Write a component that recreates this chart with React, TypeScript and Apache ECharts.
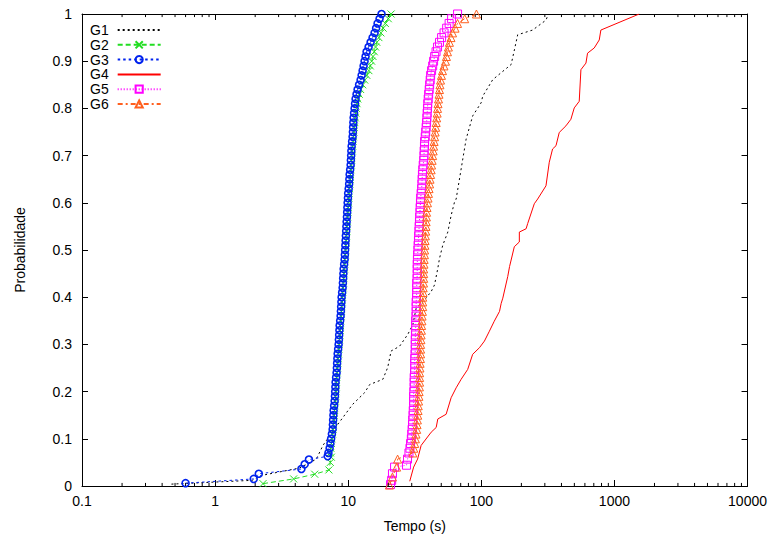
import React, { useEffect, useRef } from "react";
import * as echarts from "echarts";

// ---- Data ----
const SERIES_NAMES = ["G1", "G2", "G3", "G4", "G5", "G6"];
const X_TICK_LABELS = ["0.1", "1", "10", "100", "1000", "10000"];

const G1_X = [0.47, 1.9, 2.2, 4.3, 5.2, 5.76, 6.46, 8.37, 10.8, 13.3, 14.5, 18.2, 19.8, 21.0, 24.3, 28.0, 30.6, 32.4, 37.4, 42.0, 44.5, 47.1, 48.5, 51.3, 56.0, 59.3, 62.8, 64.7, 72.6, 76.9, 86.1, 99.7, 102.5, 121.9, 167.5, 177.2, 187.6, 243, 306, 315];
const G1_Y = [0.004, 0.012, 0.022, 0.038, 0.05, 0.057, 0.086, 0.131, 0.173, 0.198, 0.215, 0.226, 0.251, 0.286, 0.296, 0.321, 0.342, 0.377, 0.394, 0.412, 0.426, 0.461, 0.482, 0.51, 0.538, 0.573, 0.601, 0.608, 0.693, 0.735, 0.784, 0.812, 0.826, 0.861, 0.893, 0.924, 0.956, 0.966, 0.987, 0.996];

const G2_X = [2.29, 3.89, 5.6, 7.16, 7.34, 7.47,
  7.35, 7.4, 7.48, 7.55, 7.62, 7.7, 7.75, 7.8, 7.85, 7.9, 7.95, 8.0, 8.05, 8.1,
  8.12, 8.15, 8.2, 8.25, 8.3, 8.35, 8.4, 8.45, 8.5, 8.55, 8.6, 8.65, 8.7, 8.75,
  8.8, 8.85, 8.9, 8.95, 9.0, 9.05, 9.1, 9.15, 9.2, 9.25, 9.3, 9.35, 9.4, 9.45,
  9.5, 9.55, 9.6, 9.65, 9.7, 9.75, 9.8, 9.85, 9.9, 9.95, 10.0, 10.05, 10.1, 10.15,
  10.22, 10.3, 10.35, 10.4, 10.48, 10.55, 10.6, 10.65, 10.72, 10.8, 10.88, 10.95,
  11.02, 11.1, 11.2, 11.3, 11.4, 11.5, 11.65, 11.8, 12.1, 12.4, 12.85, 13.3, 13.8,
  14.3, 14.65, 15.0, 15.35, 15.7, 16.05, 16.4, 17.0, 17.6, 18.3, 19.0, 20.0, 21.0];
const G2_Y = [0.005, 0.015, 0.025, 0.034, 0.05, 0.061,
  0.07, 0.08, 0.09, 0.1, 0.11, 0.12, 0.13, 0.14, 0.15, 0.16, 0.17, 0.18, 0.19, 0.2,
  0.21, 0.22, 0.23, 0.24, 0.25, 0.26, 0.27, 0.28, 0.29, 0.3, 0.31, 0.32, 0.33, 0.34,
  0.35, 0.36, 0.37, 0.38, 0.39, 0.4, 0.41, 0.42, 0.43, 0.44, 0.45, 0.46, 0.47, 0.48,
  0.49, 0.5, 0.51, 0.52, 0.53, 0.54, 0.55, 0.56, 0.57, 0.58, 0.59, 0.6, 0.61, 0.62,
  0.63, 0.64, 0.65, 0.66, 0.67, 0.68, 0.69, 0.7, 0.71, 0.72, 0.73, 0.74,
  0.75, 0.76, 0.77, 0.78, 0.79, 0.8, 0.81, 0.82, 0.83, 0.84, 0.85, 0.86, 0.87,
  0.88, 0.89, 0.9, 0.91, 0.92, 0.93, 0.94, 0.95, 0.96, 0.97, 0.98, 0.99, 1.0];

const G3_X = [0.6, 1.95, 2.13, 4.45, 4.71, 5.07, 7.01,
  7.1, 7.25, 7.35, 7.44, 7.54, 7.64, 7.67, 7.7, 7.74, 7.77, 7.84, 7.91, 7.95, 7.98,
  8.01, 8.04, 8.11, 8.18, 8.22, 8.25, 8.29, 8.33, 8.4, 8.47, 8.51, 8.55, 8.59, 8.62,
  8.7, 8.77, 8.81, 8.85, 8.89, 8.92, 9.0, 9.08, 9.12, 9.16, 9.2, 9.24, 9.32, 9.4,
  9.44, 9.48, 9.52, 9.56, 9.6, 9.65, 9.69, 9.73, 9.78, 9.82, 9.86, 9.9, 9.95, 9.99,
  10.08, 10.16, 10.2, 10.25, 10.34, 10.43, 10.47, 10.52, 10.56, 10.61, 10.7, 10.79,
  10.84, 10.88, 10.93, 10.98, 11.07, 11.17, 11.26, 11.36, 11.55, 11.76, 12.07, 12.39,
  12.61, 12.83, 13.05, 13.27, 13.5, 13.74, 14.23, 14.73, 15.25, 15.78, 16.2, 16.62, 17.2, 17.8];
const G3_Y = [0.006, 0.015, 0.026, 0.036, 0.046, 0.056, 0.063,
  0.07, 0.08, 0.09, 0.1, 0.11, 0.12, 0.13, 0.14, 0.15, 0.16, 0.17, 0.18, 0.19, 0.2,
  0.21, 0.22, 0.23, 0.24, 0.25, 0.26, 0.27, 0.28, 0.29, 0.3, 0.31, 0.32, 0.33, 0.34,
  0.35, 0.36, 0.37, 0.38, 0.39, 0.4, 0.41, 0.42, 0.43, 0.44, 0.45, 0.46, 0.47, 0.48,
  0.49, 0.5, 0.51, 0.52, 0.53, 0.54, 0.55, 0.56, 0.57, 0.58, 0.59, 0.6, 0.61, 0.62,
  0.63, 0.64, 0.65, 0.66, 0.67, 0.68, 0.69, 0.7, 0.71, 0.72, 0.73, 0.74,
  0.75, 0.76, 0.77, 0.78, 0.79, 0.8, 0.81, 0.82, 0.83, 0.84, 0.85, 0.86,
  0.87, 0.88, 0.89, 0.9, 0.91, 0.92, 0.93, 0.94, 0.95, 0.96, 0.97, 0.98, 0.99, 1.0];

const G4_X = [29, 31, 33.2, 35.3, 42.0, 45.8, 47.1, 54.4, 59.3, 64.7, 70.5, 79.0, 86.1, 96.8, 105.5, 115, 125, 137, 141, 145, 158, 163, 177, 193, 193, 217, 223, 250, 265, 306, 324, 343, 364, 385, 432, 471, 499, 544, 560, 611, 628, 705, 769, 791, 1535];
const G4_Y = [0.01, 0.04, 0.057, 0.086, 0.114, 0.124, 0.142, 0.152, 0.187, 0.208, 0.226, 0.247, 0.279, 0.293, 0.307, 0.328, 0.349, 0.37, 0.387, 0.398, 0.444, 0.465, 0.507, 0.517, 0.538, 0.545, 0.556, 0.598, 0.608, 0.636, 0.686, 0.714, 0.721, 0.749, 0.763, 0.777, 0.801, 0.815, 0.882, 0.896, 0.917, 0.928, 0.945, 0.966, 1.0];

const G5_X = [20.8, 21.2, 21.5, 22.3, 27.4, 27.9,
  28.6, 29.1, 29.4, 29.8, 30.0, 30.2, 30.4, 30.5, 30.7, 30.8, 31.0, 31.0, 31.0, 31.1,
  31.3, 31.3, 31.3, 31.5, 31.6, 31.6, 31.6, 31.8, 31.9, 31.9, 31.9, 32.0, 32.1, 32.1,
  32.1, 32.3, 32.4, 32.4, 32.4, 32.6, 32.7, 32.7, 32.7, 32.9, 33.0, 33.0, 33.0, 33.1,
  33.2, 33.4, 33.5, 33.7, 33.8, 34.0, 34.1, 34.3, 34.4, 34.6, 34.7, 34.9, 35.0, 35.3,
  35.6, 35.8, 35.9, 36.1, 36.3, 36.6, 36.9, 37.1, 37.2, 37.4, 37.5, 37.9,
  38.2, 38.5, 38.8, 39.0, 39.2, 39.4, 39.6, 39.9, 40.2, 40.6, 40.9, 41.3, 41.6,
  42.3, 43.1, 43.8, 44.6, 45.7, 46.9, 48.5, 50.3, 52.5, 54.9, 57.3, 59.8, 66.3];
const G5_Y = [0.003, 0.012, 0.026, 0.04, 0.044, 0.057,
  0.07, 0.08, 0.09, 0.1, 0.11, 0.12, 0.13, 0.14, 0.15, 0.16, 0.17, 0.18, 0.19, 0.2,
  0.21, 0.22, 0.23, 0.24, 0.25, 0.26, 0.27, 0.28, 0.29, 0.3, 0.31, 0.32, 0.33, 0.34,
  0.35, 0.36, 0.37, 0.38, 0.39, 0.4, 0.41, 0.42, 0.43, 0.44, 0.45, 0.46, 0.47, 0.48,
  0.49, 0.5, 0.51, 0.52, 0.53, 0.54, 0.55, 0.56, 0.57, 0.58, 0.59, 0.6, 0.61, 0.62,
  0.63, 0.64, 0.65, 0.66, 0.67, 0.68, 0.69, 0.7, 0.71, 0.72, 0.73, 0.74,
  0.75, 0.76, 0.77, 0.78, 0.79, 0.8, 0.81, 0.82, 0.83, 0.84, 0.85, 0.86, 0.87,
  0.88, 0.89, 0.9, 0.91, 0.92, 0.93, 0.94, 0.95, 0.96, 0.97, 0.98, 0.99, 1.0];

const G6_X = [20.4, 21.5, 23.1, 23.5,
  30.6, 31.1, 31.6, 32.0, 32.3, 32.7, 32.9, 33.1, 33.3, 33.5, 33.6, 33.8, 34.0, 34.1,
  34.3, 34.4, 34.4, 34.4, 34.6, 34.7, 34.9, 35.0, 35.0, 35.0, 35.2, 35.3, 35.5, 35.6,
  35.8, 35.9, 36.1, 36.3, 36.3, 36.3, 36.5, 36.6, 36.8, 36.9, 36.9, 36.9, 37.1, 37.2,
  37.4, 37.5, 37.7, 37.8, 38.0, 38.2, 38.4, 38.5, 38.7, 38.8, 39.1, 39.4, 39.8, 40.1,
  40.5, 40.9, 41.2, 41.6, 42.0, 42.3, 42.7, 43.1, 43.5, 43.8, 44.2, 44.6,
  45.0, 45.4, 45.8, 46.2, 46.6, 46.9, 47.3, 47.7, 48.1, 48.5, 48.9, 49.4, 50.2,
  51.1, 52.4, 53.8, 54.7, 55.7, 56.6, 57.6, 59.2, 60.8, 63.5, 66.3, 75.0, 91.9];
const G6_Y = [0.002, 0.019, 0.04, 0.057,
  0.07, 0.08, 0.09, 0.1, 0.11, 0.12, 0.13, 0.14, 0.15, 0.16, 0.17, 0.18, 0.19, 0.2,
  0.21, 0.22, 0.23, 0.24, 0.25, 0.26, 0.27, 0.28, 0.29, 0.3, 0.31, 0.32, 0.33, 0.34,
  0.35, 0.36, 0.37, 0.38, 0.39, 0.4, 0.41, 0.42, 0.43, 0.44, 0.45, 0.46, 0.47, 0.48,
  0.49, 0.5, 0.51, 0.52, 0.53, 0.54, 0.55, 0.56, 0.57, 0.58, 0.59, 0.6, 0.61, 0.62,
  0.63, 0.64, 0.65, 0.66, 0.67, 0.68, 0.69, 0.7, 0.71, 0.72, 0.73, 0.74,
  0.75, 0.76, 0.77, 0.78, 0.79, 0.8, 0.81, 0.82, 0.83, 0.84, 0.85, 0.86, 0.87,
  0.88, 0.89, 0.9, 0.91, 0.92, 0.93, 0.94, 0.95, 0.96, 0.97, 0.98, 0.99, 1.0];

const zip = (xs: number[], ys: number[]) => xs.map((x, i) => [x, ys[i]]);

const FONT = "'Liberation Sans', Arial, sans-serif";
const CROSS = "path://M0,0L10,10M10,0L0,10";

export default function App() {
  const ref = useRef<HTMLDivElement>(null);

  useEffect(() => {
    if (!ref.current) return;
    const chart = echarts.init(ref.current, undefined, { renderer: "svg" });

    // gnuplot-style minor ticks at 2..9 of each decade (bottom and top borders),
    // drawn as short broken line segments in data space (0.0065 of y range ≈ 3px)
    const TICK = 0.0065;
    const minorTicks: any[] = [];
    for (let e = -1; e < 4; e++) {
      for (let k = 2; k <= 9; k++) {
        const v = k * Math.pow(10, e);
        minorTicks.push([v, 0], [v, TICK], "-", [v, 1], [v, 1 - TICK], "-");
      }
    }

    const fmtX = (v: number) => {
      const idx = Math.round(Math.log10(v)) + 1;
      return X_TICK_LABELS[idx] ?? String(v);
    };

    const axisLine = { show: true, onZero: false, lineStyle: { color: "#000", width: 1 } };
    const axisTick = { show: true, inside: true, length: 6, lineStyle: { color: "#000", width: 1 } };

    const transparent = "rgba(0,0,0,0)";

    const option: any = {
      animation: false,
      backgroundColor: "#fff",
      textStyle: { fontFamily: FONT },
      grid: { left: 82, right: 22, top: 14, bottom: 49, containLabel: false },
      legend: {
        data: SERIES_NAMES,
        orient: "vertical",
        left: 85,
        top: 18,
        align: "right",
        itemWidth: 43,
        itemHeight: 9,
        itemGap: 0.8,
        selectedMode: false,
        textStyle: { fontSize: 14, color: "#000", fontFamily: FONT, padding: [0, 4, 0, 0] },
      },
      xAxis: [
        {
          type: "log",
          logBase: 10,
          min: 0.1,
          max: 10000,
          splitNumber: 5,
          position: "bottom",
          name: "Tempo (s)",
          nameLocation: "middle",
          nameGap: 33,
          nameTextStyle: { fontSize: 14, color: "#000", fontFamily: FONT },
          axisLine,
          axisTick,
          axisLabel: { fontSize: 14, color: "#000", margin: 8, fontFamily: FONT, formatter: fmtX },
          splitLine: { show: false },
        },
        {
          type: "log",
          logBase: 10,
          min: 0.1,
          max: 10000,
          splitNumber: 5,
          position: "top",
          axisLine,
          axisTick,
          axisLabel: { show: false },
          splitLine: { show: false },
        },
      ],
      yAxis: [
        {
          type: "value",
          min: 0,
          max: 1,
          interval: 0.1,
          position: "left",
          name: "Probabilidade",
          nameLocation: "middle",
          nameGap: 55,
          nameTextStyle: { fontSize: 14, color: "#000", fontFamily: FONT },
          axisLine,
          axisTick,
          axisLabel: { fontSize: 14, color: "#000", margin: 10, fontFamily: FONT },
          splitLine: { show: false },
        },
        {
          type: "value",
          min: 0,
          max: 1,
          interval: 0.1,
          position: "right",
          axisLine,
          axisTick,
          axisLabel: { show: false },
          splitLine: { show: false },
        },
      ],
      series: [
        {
          name: "G1",
          type: "line",
          data: zip(G1_X, G1_Y),
          symbol: "none",
          showSymbol: false,
          lineStyle: { color: "#000", width: 1, type: [2, 3] },
          itemStyle: { color: transparent, borderWidth: 0 },
        },
        {
          name: "G2",
          type: "line",
          data: zip(G2_X, G2_Y),
          symbol: CROSS,
          symbolSize: 7,
          showAllSymbol: true,
          lineStyle: { color: "#22dd22", width: 1, type: [5, 3] },
          itemStyle: { color: transparent, borderColor: "#22dd22", borderWidth: 1 },
        },
        {
          name: "G3",
          type: "line",
          data: zip(G3_X, G3_Y),
          symbol: "circle",
          symbolSize: 7,
          showAllSymbol: true,
          lineStyle: { color: "#0022ee", width: 1, type: [2.5, 3] },
          itemStyle: { color: transparent, borderColor: "#0022ee", borderWidth: 1.6 },
        },
        {
          name: "G4",
          type: "line",
          data: zip(G4_X, G4_Y),
          symbol: "none",
          showSymbol: false,
          lineStyle: { color: "#ff0000", width: 1 },
          itemStyle: { color: transparent, borderWidth: 0 },
        },
        {
          name: "G5",
          type: "line",
          data: zip(G5_X, G5_Y),
          symbol: "rect",
          symbolSize: 8,
          showAllSymbol: true,
          lineStyle: { color: "#ff00ff", width: 1, type: [1, 2] },
          itemStyle: { color: transparent, borderColor: "#ff00ff", borderWidth: 1 },
        },
        {
          name: "G6",
          type: "line",
          data: zip(G6_X, G6_Y),
          symbol: "triangle",
          symbolSize: 8,
          showAllSymbol: true,
          lineStyle: { color: "#ff6020", width: 1, type: [5, 3, 2, 3] },
          itemStyle: { color: transparent, borderColor: "#ff6020", borderWidth: 1 },
        },
        {
          name: "minorTicks",
          type: "line",
          silent: true,
          z: 20,
          data: minorTicks,
          connectNulls: false,
          symbol: "none",
          showSymbol: false,
          lineStyle: { color: "#000", width: 1 },
        },
      ],
    };

    chart.setOption(option);
    return () => chart.dispose();
  }, []);

  return (
    <div
      ref={ref}
      style={{ position: "fixed", left: 0, top: 0, width: 770, height: 538, background: "#fff" }}
    />
  );
}
